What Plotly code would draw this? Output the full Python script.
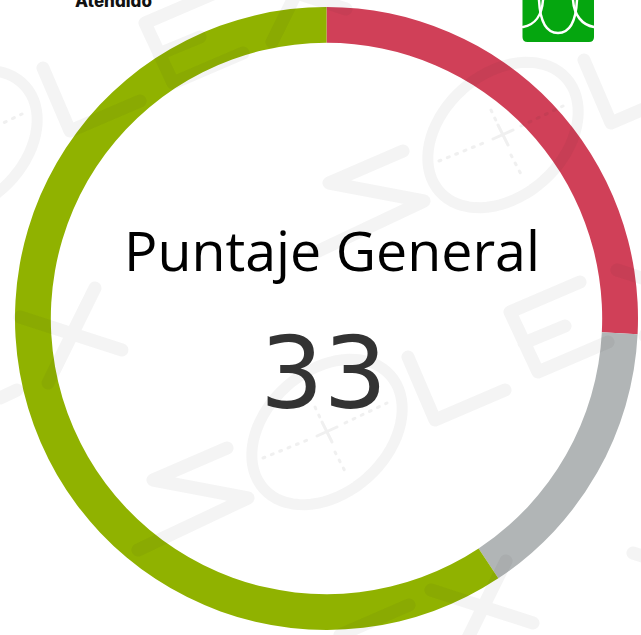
import math
import plotly.graph_objects as go

W, H = 641, 635
segment_names = ["Crítico", "Neutro", "Favorable"]
segment_values = [25.8, 14.9, 59.3]
segment_colors = ["#D04058", "#B1B5B6", "#90B200"]
title_text = "Puntaje General"
score_text = "33"
header_text = "Atendido"

WM_COLOR = "rgba(40,40,40,0.05)"
WM_DOT_COLOR = "rgba(40,40,40,0.07)"

# Watermark glyph strokes, in pixels of one "SOLEX" group
wm_s = [[(227, 448), (153, 480), (248, 498), (138, 550)]]
wm_l = [[(408, 357), (435, 420), (505, 390)]]
wm_e = [[(580, 282), (510, 312), (538, 372), (608, 342)], [(524, 343), (565, 326)]]
wm_o_center = (327, 432)
wm_cross = [[(317, 436), (337, 427)], [(322, 422), (332, 442)]]
wm_dots = [[(263, 458), (310, 439)], [(335, 452), (347, 475)], [(345, 423), (387, 403)], [(315, 407), (322, 422)]]
wm_x_center = [(72, 335), (296, -6), (483, 608), (669, 288), (685, 571)]
wm_x_arms = [[(23, -47), (-24, 48)], [(-52, -18), (50, 15)]]
wm_group_offsets = [(0, 0), (176, -297), (-365, -289)]
wm_loose = [[(409, 605), (340, 635)], [(0, 398), (17, 390)]]


def px(x):
    return x / W


def py(y):
    return 1 - y / H


def P(x, y):
    return f"{px(x):.5f},{py(y):.5f}"


def poly(points, dx=0, dy=0):
    return "M" + " L".join(P(x + dx, y + dy) for x, y in points)


def ellipse(cx, cy, a=85, b=61, angle=-42):
    t = math.radians(angle)
    pts = []
    for i in range(73):
        u = 2 * math.pi * i / 72
        x, y = a * math.cos(u), b * math.sin(u)
        pts.append((cx + x * math.cos(t) - y * math.sin(t), cy + x * math.sin(t) + y * math.cos(t)))
    return poly(pts) + " Z"


def stroke(path, color=WM_COLOR, width=13, dash="solid"):
    return dict(type="path", xref="paper", yref="paper", layer="above", path=path,
                line=dict(color=color, width=width, dash=dash))


shapes = []
for dx, dy in wm_group_offsets:
    shapes.append(stroke(" ".join(poly(s, dx, dy) for s in wm_s + wm_l + wm_e)))
    shapes.append(stroke(ellipse(wm_o_center[0] + dx, wm_o_center[1] + dy), width=11))
    shapes.append(stroke(" ".join(poly(s, dx, dy) for s in wm_cross), WM_DOT_COLOR, 3))
    shapes.append(stroke(" ".join(poly(s, dx, dy) for s in wm_dots), WM_DOT_COLOR, 3, "2px,7px"))
for cx, cy in wm_x_center:
    shapes.append(stroke(" ".join(poly(a, cx, cy) for a in wm_x_arms)))
shapes.append(stroke(" ".join(poly(s) for s in wm_loose)))


def logo_line(path):
    return dict(type="path", xref="paper", yref="paper", path=path, line=dict(color="white", width=2.5))


shapes += [
    dict(type="path", xref="paper", yref="paper", fillcolor="#05A60F", line=dict(width=0),
         path=f"M{P(522.5,-2)} L{P(594,-2)} L{P(594,37)} Q{P(594,42)} {P(589,42)} L{P(527.5,42)} Q{P(522.5,42)} {P(522.5,37)} Z"),
    logo_line(f"M{P(523,27)} C{P(535,25)} {P(542,15)} {P(543,0)}"),
    logo_line(f"M{P(539,0)} C{P(540,20)} {P(546,33)} {P(558,33)} C{P(570,33)} {P(576,20)} {P(577,0)}"),
    logo_line(f"M{P(594,27)} C{P(582,25)} {P(574,15)} {P(573,0)}"),
]

fig = go.Figure(go.Pie(
    labels=segment_names, values=segment_values, sort=False, direction="clockwise",
    rotation=0, hole=0.885, textinfo="none", showlegend=False,
    marker=dict(colors=segment_colors, line=dict(width=0)),
    domain=dict(x=[px(15), px(638)], y=[py(630), py(7)]),
))

annotations = [
    dict(text=title_text, x=px(332), y=py(250), font=dict(family="Open Sans", size=55.5, color="#000000")),
    dict(text=score_text, x=px(323), y=py(373), font=dict(family="DejaVu Sans", size=100, color="#333333")),
    dict(text=header_text, x=px(113), y=py(0.5), font=dict(family="Inter", size=17, color="#111111", weight=800)),
]
for a in annotations:
    a.update(xref="paper", yref="paper", xanchor="center", yanchor="middle", showarrow=False)

fig.update_layout(width=W, height=H, margin=dict(l=0, r=0, t=0, b=0),
                  paper_bgcolor="white", annotations=annotations, shapes=shapes)

page_css = """
document.body.style.margin = '0';
document.body.style.overflow = 'hidden';
var s = document.createElement('style');
s.textContent = '.shapelayer path {stroke-linecap: round; stroke-linejoin: round;}';
document.head.appendChild(s);
"""
fig.write_html("out.html", config={"displayModeBar": False}, post_script=page_css)
